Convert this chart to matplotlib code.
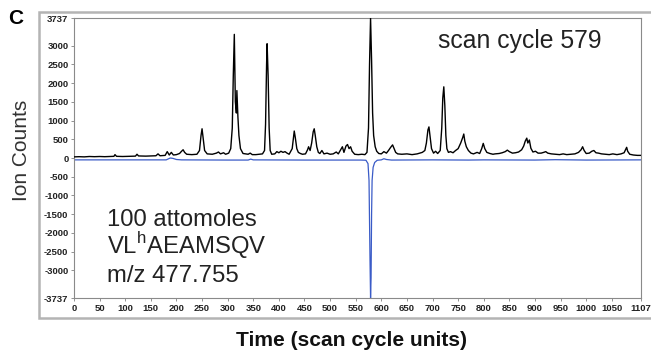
import matplotlib
matplotlib.use("Agg")
import matplotlib.pyplot as plt
from matplotlib.patches import Rectangle

plt.rcParams['font.family'] = ['Liberation Sans', 'DejaVu Sans']
plt.rcParams['mathtext.fontset'] = 'custom'
plt.rcParams['mathtext.rm'] = 'Liberation Sans'

# ---- data ----
black_scan = [0, 10, 20, 30, 40, 50, 60, 70, 78, 80, 83, 95, 110, 120, 123, 126, 140, 150, 160, 164, 168,
              178, 182, 186, 190, 194, 200, 206, 210, 213, 216, 220, 230, 240, 245, 248, 250, 252, 255, 260,
              270, 278, 282, 286, 292, 296, 302, 306, 309, 311, 313, 315, 317, 318, 320, 322, 325, 330, 340,
              344, 348, 355, 362, 368, 372, 374, 376, 377, 379, 381, 383, 386, 392, 396, 400, 404, 408, 412,
              416, 420, 426, 430, 432, 435, 438, 442, 446, 452, 456, 458, 461, 464, 467, 469, 471, 474, 477,
              480, 484, 488, 494, 500, 506, 512, 516, 522, 524, 527, 531, 534, 537, 540, 543, 548, 555, 562,
              568, 572, 575, 577, 579, 581, 583, 585, 588, 591, 595, 600, 605, 610, 614, 618, 622, 625, 628,
              632, 640, 650, 660, 670, 680, 685, 688, 691, 693, 695, 698, 702, 706, 710, 715, 718, 720, 722,
              724, 726, 728, 731, 735, 740, 745, 750, 755, 759, 761, 763, 766, 770, 775, 780, 787, 792, 796,
              799, 802, 806, 812, 818, 822, 830, 836, 842, 846, 850, 856, 862, 868, 874, 878, 881, 884, 886,
              889, 892, 896, 901, 906, 912, 917, 921, 925, 932, 940, 948, 955, 962, 970, 978, 985, 990, 993,
              996, 1000, 1006, 1011, 1015, 1019, 1024, 1030, 1038, 1045, 1052, 1060, 1068, 1074, 1077, 1079,
              1081, 1085, 1092, 1100, 1107]
black_counts = [30, 35, 30, 40, 35, 40, 35, 40, 45, 90, 45, 40, 45, 50, 100, 55, 50, 55, 60, 110, 60,
                70, 170, 80, 150, 80, 90, 120, 180, 220, 150, 100, 90, 100, 200, 600, 780, 550, 200, 110,
                100, 130, 160, 110, 140, 100, 130, 250, 800, 2200, 3300, 1500, 1200, 1800, 1100, 600, 250, 120, 100,
                130, 90, 90, 100, 110, 200, 900, 2500, 3050, 2200, 800, 200, 100, 110, 170, 140, 180, 150, 170,
                130, 100, 250, 720, 550, 250, 150, 120, 100, 110, 220, 300, 200, 400, 700, 780, 600, 300, 150,
                120, 200, 110, 130, 100, 110, 160, 110, 250, 300, 150, 320, 360, 250, 300, 180, 100, 90, 100,
                90, 150, 800, 2500, 3737, 2600, 1200, 600, 300, 180, 120, 110, 170, 130, 200, 280, 350, 250, 150,
                110, 100, 110, 90, 110, 150, 200, 400, 750, 830, 600, 250, 130, 180, 120, 200, 800, 1600, 1900,
                1400, 600, 250, 150, 170, 140, 200, 250, 400, 550, 640, 450, 300, 200, 130, 110, 150, 120, 250,
                390, 250, 150, 120, 100, 110, 120, 140, 170, 210, 170, 130, 140, 160, 220, 320, 450, 530, 400,
                480, 260, 160, 180, 130, 130, 150, 170, 130, 110, 100, 90, 110, 90, 100, 110, 150, 220, 300,
                200, 120, 130, 180, 200, 140, 130, 110, 100, 90, 110, 90, 110, 140, 230, 285,
                180, 100, 80, 70, 70]

blue_scan = [0, 100, 180, 188, 193, 200, 210, 300, 340, 345, 350, 450, 560, 570, 574, 576, 578, 579, 580,
             581, 582, 584, 587, 592, 600, 605, 610, 620, 700, 770, 800, 900, 940, 1000, 1107]
blue_counts = [-50, -50, -50, 0, -10, -40, -50, -55, -55, -30, -50, -55, -55, -60, -150, -600, -2800, -3737, -3200,
               -1500, -600, -250, -120, -60, -50, -20, -40, -55, -50, -55, -50, -55, -45, -55, -50]

x_ticks = list(range(0, 1051, 50)) + [1107]
y_ticks = [-3737, -3000, -2500, -2000, -1500, -1000, -500, 0, 500, 1000, 1500, 2000, 2500, 3000, 3737]

# ---- figure ----
W, H = 651, 352
fig = plt.figure(figsize=(W / 100, H / 100), dpi=100)
fig.patch.set_facecolor('white')

# outer grey frame
fig.patches.append(Rectangle((39 / W, 1 - 318 / H), (652 - 39) / W, (318 - 12) / H,
                             transform=fig.transFigure, fill=False, edgecolor='#b4b4b4', linewidth=1.8))

ax = fig.add_axes([74 / W, 1 - 298 / H, (641 - 74) / W, (298 - 18) / H])
ax.plot(black_scan, black_counts, color='black', linewidth=1.0, zorder=3)
ax.plot(blue_scan, blue_counts, color='#3a5bc7', linewidth=0.9, zorder=2)

ax.set_xlim(0, 1107)
ax.set_ylim(-3737, 3737)
ax.set_xticks(x_ticks)
ax.set_xticklabels([str(t) for t in x_ticks])
ax.set_yticks(y_ticks)
ax.set_yticklabels([str(t) for t in y_ticks])
ax.tick_params(axis='both', length=2.5, width=0.6, color='#808080', pad=1.5,
               labelsize=6.8, labelcolor='#222222')
for lab in ax.get_xticklabels() + ax.get_yticklabels():
    lab.set_fontweight('bold')
for s in ax.spines.values():
    s.set_color('#8a8a8a')
    s.set_linewidth(0.8)

ax.text(0.642, 0.893, 'scan cycle 579', transform=ax.transAxes, fontsize=17.8, color='#222222',
        va='baseline', ha='left')
ax.text(0.058, 0.257, '100 attomoles', transform=ax.transAxes, fontsize=17.2, color='#222222',
        va='baseline', ha='left')
ax.text(0.058, 0.157, r'VL$^{\mathrm{h}}$AEAMSQV', transform=ax.transAxes, fontsize=17.2, color='#222222',
        va='baseline', ha='left')
ax.text(0.058, 0.057, 'm/z 477.755', transform=ax.transAxes, fontsize=17.2, color='#222222',
        va='baseline', ha='left')

fig.text(22 / W, 1 - 150 / H, 'Ion Counts', rotation=90, fontsize=15, color='#333333',
         ha='center', va='center')
fig.text(352 / W, 1 - 340 / H, 'Time (scan cycle units)', fontsize=15.1, fontweight='bold',
         color='#111111', ha='center', va='center')
fig.text(8 / W, 1 - 18 / H, 'C', fontsize=15, fontweight='bold', color='black',
         ha='left', va='center')

fig.savefig('out.png', dpi=100, facecolor='white')
